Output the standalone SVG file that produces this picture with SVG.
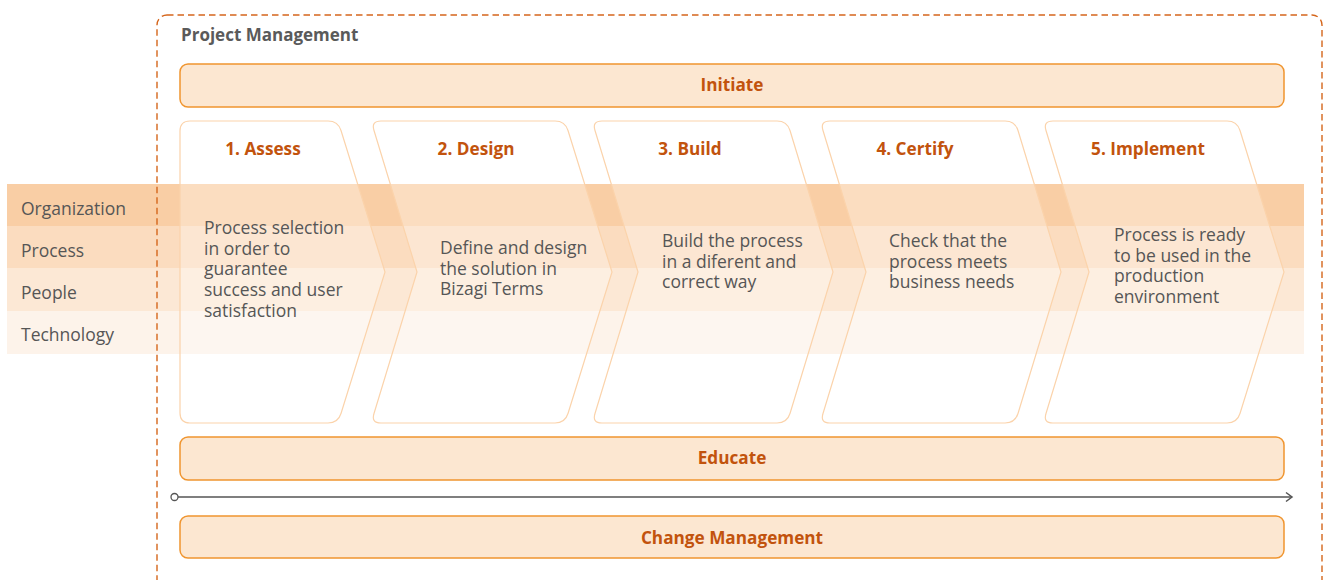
<svg xmlns="http://www.w3.org/2000/svg" width="1323" height="580" viewBox="0 0 1323 580">
<style>
.lbl{font-family:"Open Sans","Noto Sans",sans-serif;font-size:17.5px;fill:#565656}
.ttl{font-family:"Open Sans","Noto Sans",sans-serif;font-size:17.2px;font-weight:bold;fill:#c2530d;text-anchor:middle}
.bar{fill:#fce7d1;stroke:#f0952f;stroke-width:1.5}
.chev{fill:#ffffff;fill-opacity:0.3;stroke:#fbd3ab;stroke-width:1.2}
.pm{font-family:"Open Sans","Noto Sans",sans-serif;font-size:17px;font-weight:bold;fill:#5a5a5a}
</style>
<defs>
<marker id="arr" markerWidth="12" markerHeight="12" refX="9" refY="6" orient="auto" markerUnits="userSpaceOnUse">
<path d="M3,1.5 L9,6 L3,10.5" fill="none" stroke="#555" stroke-width="1.5"/>
</marker>
</defs>
<g id="bands">
<rect x="7" y="184" width="1297" height="42" fill="#f9cea5"/>
<rect x="7" y="226" width="1297" height="42" fill="#fbdcbf"/>
<rect x="7" y="268" width="1297" height="43" fill="#fce8d5"/>
<rect x="7" y="311" width="1297" height="43" fill="#fdf3ea"/>
<text class="lbl" x="21" y="215">Organization</text>
<text class="lbl" x="21" y="257">Process</text>
<text class="lbl" x="21" y="299">People</text>
<text class="lbl" x="21" y="341">Technology</text>
</g>
<g id="project-management">
<rect x="157" y="15" width="1165" height="600" rx="10" fill="none" stroke="#d5661c" stroke-width="1.4" stroke-dasharray="6.5,4"/>
<text class="pm" x="181" y="41">Project Management</text>
</g>
<g id="initiate">
<rect class="bar" x="180" y="64" width="1104" height="43" rx="8"/>
<text class="ttl" x="732" y="91">Initiate</text>
</g>
<g id="step1">
<path class="chev" d="M180,131 Q180,121 190,121 H328 Q338,121 341,130.5 L385,272 L341,413.5 Q338,423 328,423 H190 Q180,423 180,413 Z"/>
<text class="ttl" x="263" y="155">1. Assess</text>
<text class="lbl" x="204" y="234">Process selection<tspan x="204" dy="20.7">in order to</tspan><tspan x="204" dy="20.7">guarantee</tspan><tspan x="204" dy="20.7">success and user</tspan><tspan x="204" dy="20.7">satisfaction</tspan></text>
</g>
<g id="step2">
<path class="chev" d="M374,130.5 Q371,121 381,121 H555 Q565,121 568,130.5 L612,272 L568,413.5 Q565,423 555,423 H381 Q371,423 374,413.5 L417,272 Z"/>
<text class="ttl" x="476" y="155">2. Design</text>
<text class="lbl" x="440" y="254">Define and design<tspan x="440" dy="20.7">the solution in</tspan><tspan x="440" dy="20.7">Bizagi Terms</tspan></text>
</g>
<g id="step3">
<path class="chev" d="M595,130.5 Q592,121 602,121 H777 Q787,121 790,130.5 L833,272 L790,413.5 Q787,423 777,423 H602 Q592,423 595,413.5 L638,272 Z"/>
<text class="ttl" x="690" y="155">3. Build</text>
<text class="lbl" x="662" y="247">Build the process<tspan x="662" dy="20.7">in a diferent and</tspan><tspan x="662" dy="20.7">correct way</tspan></text>
</g>
<g id="step4">
<path class="chev" d="M823,130.5 Q820,121 830,121 H1005 Q1015,121 1018,130.5 L1061,272 L1018,413.5 Q1015,423 1005,423 H830 Q820,423 823,413.5 L866,272 Z"/>
<text class="ttl" x="915" y="155">4. Certify</text>
<text class="lbl" x="889" y="247">Check that the<tspan x="889" dy="20.7">process meets</tspan><tspan x="889" dy="20.7">business needs</tspan></text>
</g>
<g id="step5">
<path class="chev" d="M1046,130.5 Q1043,121 1053,121 H1227 Q1237,121 1240,130.5 L1284,272 L1240,413.5 Q1237,423 1227,423 H1053 Q1043,423 1046,413.5 L1089,272 Z"/>
<text class="ttl" x="1148" y="155">5. Implement</text>
<text class="lbl" x="1114" y="241">Process is ready<tspan x="1114" dy="20.7">to be used in the</tspan><tspan x="1114" dy="20.7">production</tspan><tspan x="1114" dy="20.7">environment</tspan></text>
</g>
<g id="educate">
<rect class="bar" x="180" y="437" width="1104" height="43" rx="8"/>
<text class="ttl" x="732" y="464">Educate</text>
</g>
<g id="connectors">
<line x1="178" y1="497" x2="1292" y2="497" stroke="#555" stroke-width="1.5" marker-end="url(#arr)"/>
<circle cx="174.5" cy="497" r="3.5" fill="#fff" stroke="#555" stroke-width="1.3"/>
</g>
<g id="change-management">
<rect class="bar" x="180" y="516" width="1104" height="42" rx="8"/>
<text class="ttl" x="732" y="544">Change Management</text>
</g>
</svg>
